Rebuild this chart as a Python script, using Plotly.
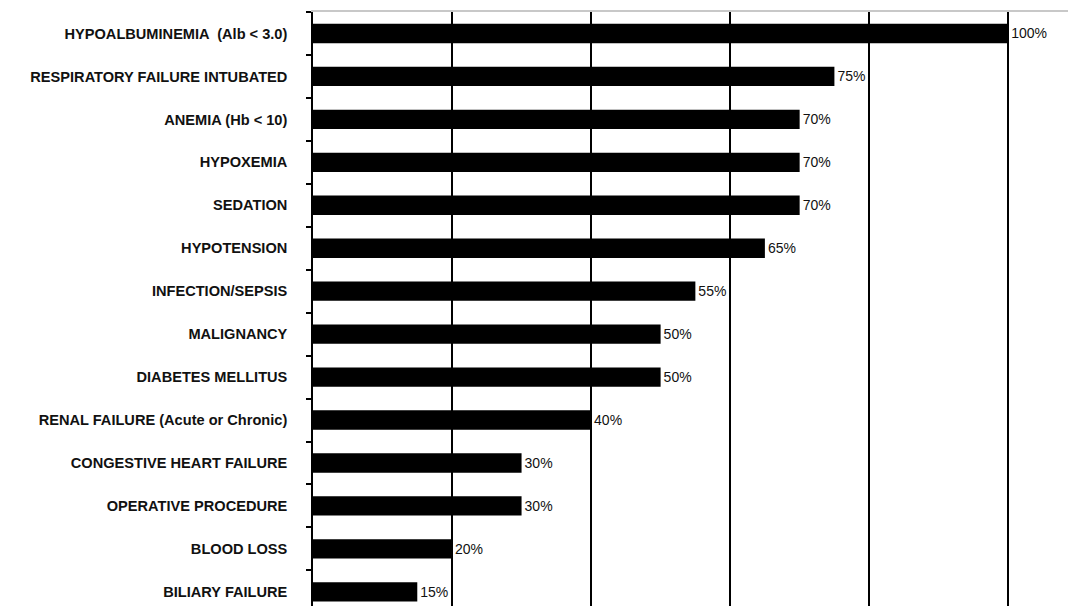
import plotly.graph_objects as go

categories = [
    "HYPOALBUMINEMIA  (Alb < 3.0)",
    "RESPIRATORY FAILURE INTUBATED",
    "ANEMIA (Hb < 10)",
    "HYPOXEMIA",
    "SEDATION",
    "HYPOTENSION",
    "INFECTION/SEPSIS",
    "MALIGNANCY",
    "DIABETES MELLITUS",
    "RENAL FAILURE (Acute or Chronic)",
    "CONGESTIVE HEART FAILURE",
    "OPERATIVE PROCEDURE",
    "BLOOD LOSS",
    "BILIARY FAILURE",
]
values = [100, 75, 70, 70, 70, 65, 55, 50, 50, 40, 30, 30, 20, 15]
value_labels = [f"{v}%" for v in values]

fig = go.Figure(
    go.Bar(
        x=values,
        y=categories,
        orientation="h",
        marker=dict(color="black", line=dict(width=0)),
        width=0.45,
        text=value_labels,
        textposition="outside",
        textfont=dict(family="Liberation Sans, Arial", size=14, color="#111111"),
        cliponaxis=False,
    )
)

fig.update_layout(
    width=1068,
    height=606,
    margin=dict(l=313, r=0, t=12, b=0),
    paper_bgcolor="white",
    plot_bgcolor="white",
    showlegend=False,
)
fig.update_xaxes(
    range=[0, 108.6],
    side="top",
    showline=True,
    linecolor="#c8c8c8",
    linewidth=1.5,
    showticklabels=False,
    ticks="",
    tick0=0,
    dtick=20,
    showgrid=True,
    gridcolor="black",
    gridwidth=1.5,
    zeroline=False,
)
fig.update_yaxes(
    type="category",
    categoryorder="array",
    categoryarray=categories,
    range=[13.33, -0.5],
    showline=True,
    linecolor="black",
    linewidth=1.5,
    ticks="outside",
    tickson="boundaries",
    ticklen=5,
    tickcolor="black",
    tickwidth=1.5,
    showgrid=False,
    ticklabelstandoff=21,
    tickfont=dict(family="Liberation Sans, Arial", size=14.6, color="#111111", weight="bold"),
)

fig.write_html("out.html")
